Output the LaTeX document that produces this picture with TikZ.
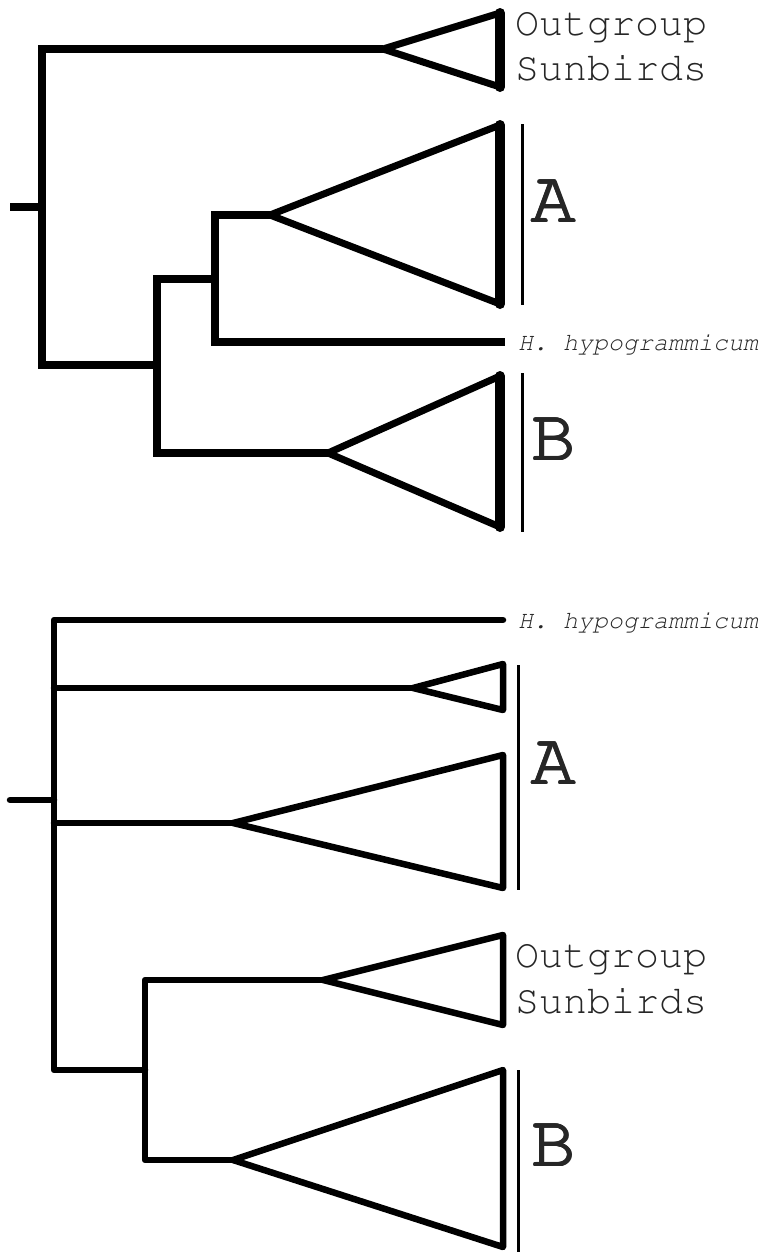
\documentclass[tikz,border=0pt]{standalone}
\usepackage[T1]{fontenc}
\newcommand{\courierface}{\fontfamily{pcr}\selectfont}
% letter set several times with a small shift, for a heavier stroke than the regular face
\newcommand{\heavyletter}[1]{%
  \rlap{\kern-0.9pt#1}\rlap{\kern0.9pt#1}%
  \rlap{\raisebox{0.9pt}{#1}}\rlap{\raisebox{-0.9pt}{#1}}%
  \rlap{\kern-0.65pt\raisebox{0.65pt}{#1}}\rlap{\kern0.65pt\raisebox{0.65pt}{#1}}%
  \rlap{\kern-0.65pt\raisebox{-0.65pt}{#1}}\rlap{\kern0.65pt\raisebox{-0.65pt}{#1}}%
  #1}
\begin{document}
\begin{tikzpicture}[x=1pt,y=-1pt,
  topbranch/.style={line width=7.5pt, line join=miter},
  toptri/.style={line width=7pt, line join=round},
  topedge/.style={line width=10pt, line cap=round},
  lowbranch/.style={line width=6.5pt, line join=round, line cap=round},
  lowtri/.style={line width=6.5pt, line join=round},
  clade/.style={line width=3pt},
  biglabel/.style={anchor=base west, inner sep=0pt, text=black!85, font=\courierface\fontsize{74}{74}\selectfont},
  grouplabel/.style={anchor=base west, inner sep=0pt, text=black!85, font=\courierface\fontsize{40}{46}\selectfont},
  taxon/.style={anchor=base west, inner sep=0pt, text=black!85, font=\courierface\itshape\fontsize{25}{25}\selectfont}]
\useasboundingbox (0,0) rectangle (768,1254);

% ---------- upper tree ----------
\coordinate (tr0) at (10,207);
\coordinate (tr)  at (42,207);
\coordinate (t1u) at (42,49);
\coordinate (t1d) at (42,365);
\coordinate (t2m) at (157,365);
\coordinate (t2u) at (157,279);
\coordinate (t2d) at (157,453);
\coordinate (t3m) at (215,279);
\coordinate (t3u) at (215,215);
\coordinate (t3d) at (215,342);
\coordinate (tOg)  at (383,49);
\coordinate (tOgT) at (500,13);
\coordinate (tOgB) at (500,87);
\coordinate (tA)  at (270,215);
\coordinate (tAT) at (500,125);
\coordinate (tAB) at (500,304);
\coordinate (tB)  at (328,453);
\coordinate (tBT) at (500,376);
\coordinate (tBB) at (500,527);
\coordinate (tH)  at (505,342);

\draw[topbranch] (tr0) -- (tr);
\draw[topbranch] (tOg) -- (t1u) -- (t1d) -- (t2m);
\draw[topbranch] (t3m) -- (t2u) -- (t2d) -- (tB);
\draw[topbranch] (tA) -- (t3u) -- (t3d) -- (tH);

\draw[toptri] (tOg) -- (tOgT) -- (tOgB) -- cycle;
\draw[topedge] (tOgT) -- (tOgB);
\draw[toptri] (tA) -- (tAT) -- (tAB) -- cycle;
\draw[topedge] (tAT) -- (tAB);
\draw[toptri] (tB) -- (tBT) -- (tBB) -- cycle;
\draw[topedge] (tBT) -- (tBB);

\coordinate (tbarAu) at (522.5,124);
\coordinate (tbarAd) at (522.5,305);
\coordinate (tbarBu) at (522.5,373);
\coordinate (tbarBd) at (522.5,532);
\draw[clade] (tbarAu) -- (tbarAd);
\draw[clade] (tbarBu) -- (tbarBd);

\node[grouplabel] (tOgLab1) at (515,35) {Outgroup};
\node[grouplabel] (tOgLab2) at (515,80) {Sunbirds};
\node[biglabel] (tALab) at (531,222) {\heavyletter{A}};
\node[biglabel] (tBLab) at (531,460) {\heavyletter{B}};
\node[taxon] (tHLab) at (518,350) {H.\ hypogrammicum};

% ---------- lower tree ----------
\coordinate (br0) at (10,800);
\coordinate (br)  at (54,800);
\coordinate (b1u) at (54,620);
\coordinate (b1a) at (54,688);
\coordinate (b1b) at (54,823);
\coordinate (b1d) at (54,1070);
\coordinate (b2m) at (145,1070);
\coordinate (b2u) at (145,980);
\coordinate (b2d) at (145,1160);
\coordinate (bH)  at (503,620);
\coordinate (bA1)  at (413,688);
\coordinate (bA1T) at (503,664);
\coordinate (bA1B) at (503,710);
\coordinate (bA2)  at (233,823);
\coordinate (bA2T) at (503,755);
\coordinate (bA2B) at (503,888);
\coordinate (bOg)  at (323,980);
\coordinate (bOgT) at (503,935);
\coordinate (bOgB) at (503,1025);
\coordinate (bB)  at (233,1160);
\coordinate (bBT) at (503,1070);
\coordinate (bBB) at (503,1247);

\draw[lowbranch] (br0) -- (br);
\draw[lowbranch] (bH) -- (b1u) -- (b1d) -- (b2m);
\draw[lowbranch] (b1a) -- (bA1);
\draw[lowbranch] (b1b) -- (bA2);
\draw[lowbranch] (bOg) -- (b2u) -- (b2d) -- (bB);

\draw[lowtri] (bA1) -- (bA1T) -- (bA1B) -- cycle;
\draw[lowtri] (bA2) -- (bA2T) -- (bA2B) -- cycle;
\draw[lowtri] (bOg) -- (bOgT) -- (bOgB) -- cycle;
\draw[lowtri] (bB) -- (bBT) -- (bBB) -- cycle;

\coordinate (bbarAu) at (518,665);
\coordinate (bbarAd) at (518,890);
\coordinate (bbarBu) at (518,1070);
\coordinate (bbarBd) at (518,1252);
\draw[clade] (bbarAu) -- (bbarAd);
\draw[clade] (bbarBu) -- (bbarBd);

\node[taxon] (bHLab) at (518,628) {H.\ hypogrammicum};
\node[biglabel] (bALab) at (531,784) {\heavyletter{A}};
\node[grouplabel] (bOgLab1) at (515,967) {Outgroup};
\node[grouplabel] (bOgLab2) at (515,1013) {Sunbirds};
\node[biglabel] (bBLab) at (531,1166) {\heavyletter{B}};
\end{tikzpicture}
\end{document}
